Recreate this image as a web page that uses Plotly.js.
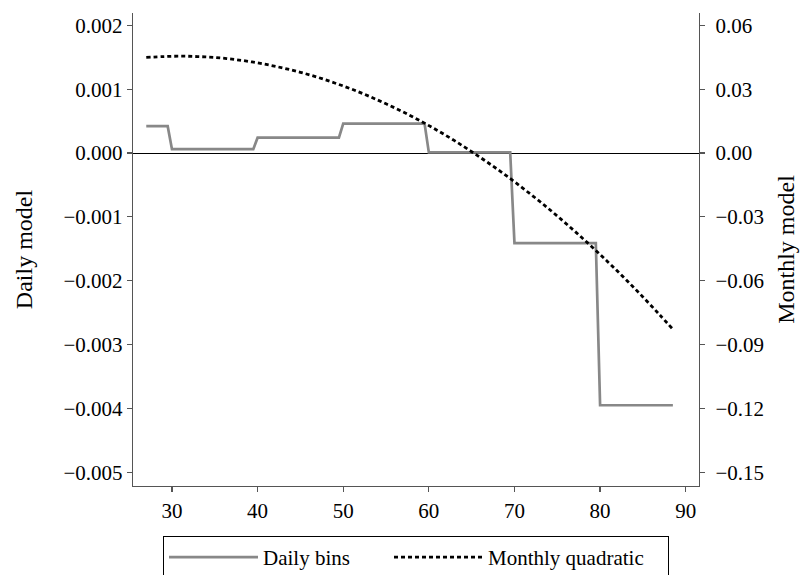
<!DOCTYPE html>
<html>
<head>
<meta charset="utf-8">
<script src="https://cdn.plot.ly/plotly-3.0.1.min.js"></script>
<style>html,body{margin:0;padding:0;background:#fff;}</style>
</head>
<body>
<div id="chart" style="width:803px;height:575px;"></div>
<script>
// Daily bins (left axis)
var dailyAge = [27, 29.5, 30, 39.5, 40, 49.5, 50, 59.5, 60, 69.5, 70, 79.5, 80, 88.5];
var dailyValue = [0.00042, 0.00042, 0.00006, 0.00006, 0.00024, 0.00024, 0.00046, 0.00046,
                  0.00001, 0.00001, -0.00141, -0.00141, -0.00395, -0.00395];

// Monthly quadratic (right axis)
var monthlyAge = [27, 29, 31, 33, 35, 37, 39, 41, 43, 45, 47, 49, 51, 53, 55, 57, 59,
                  61, 63, 65, 67, 69, 71, 73, 75, 77, 79, 81, 83, 85, 87, 88.5];
var monthlyValue = [0.0449, 0.0453, 0.0455, 0.0453, 0.0449, 0.0441, 0.0430, 0.0416, 0.0399,
                    0.0379, 0.0356, 0.0329, 0.0300, 0.0267, 0.0231, 0.0193, 0.0151, 0.0106,
                    0.0058, 0.0006, -0.0048, -0.0105, -0.0166, -0.0229, -0.0296, -0.0366,
                    -0.0439, -0.0515, -0.0594, -0.0676, -0.0762, -0.0828];

var xTicks = [30, 40, 50, 60, 70, 80, 90];
var yTicks = [-0.005, -0.004, -0.003, -0.002, -0.001, 0.000, 0.001, 0.002];
var y2Ticks = [-0.15, -0.12, -0.09, -0.06, -0.03, 0.00, 0.03, 0.06];

var FONT = '"Liberation Serif", "Times New Roman", serif';
var AX = '#555555';

var traces = [
  {
    x: dailyAge, y: dailyValue, type: 'scatter', mode: 'lines', name: 'Daily bins',
    line: {color: '#888888', width: 2.7}, yaxis: 'y', legendwidth: 121
  },
  {
    x: monthlyAge, y: monthlyValue, type: 'scatter', mode: 'lines', name: 'Monthly quadratic',
    line: {color: '#000000', width: 2.8, dash: '4px,3px', shape: 'spline'}, yaxis: 'y2',
    legendwidth: 175
  }
];

var layout = {
  width: 803, height: 575,
  margin: {l: 132.7, r: 103.7, t: 12.7, b: 89, pad: 0},
  paper_bgcolor: '#ffffff', plot_bgcolor: '#ffffff',
  font: {family: FONT, size: 21, color: '#000'},
  showlegend: true,
  legend: {
    orientation: 'h', x: 0.5, xanchor: 'center', xref: 'paper',
    y: 0.0678, yanchor: 'top', yref: 'container',
    bordercolor: '#000', borderwidth: 1, bgcolor: '#fff',
    font: {family: FONT, size: 21, color: '#000'},
    itemwidth: 89, traceorder: 'normal'
  },
  xaxis: {
    range: [25.45, 91.55], tickvals: xTicks, ticks: 'outside', ticklen: 5, tickwidth: 1.2,
    tickcolor: AX, showline: true, linecolor: AX, linewidth: 1.3, showgrid: false,
    zeroline: false, tickfont: {family: FONT, size: 21, color: '#000'}, automargin: false
  },
  yaxis: {
    range: [-0.0052144, 0.0021925], tickvals: yTicks, tickformat: '.3f',
    ticks: 'outside', ticklen: 5, tickwidth: 1.2, tickcolor: AX,
    showline: true, linecolor: AX, linewidth: 1.3, showgrid: false,
    zeroline: true, zerolinecolor: '#000', zerolinewidth: 1, automargin: false,
    tickfont: {family: FONT, size: 21, color: '#000'},
    title: {text: 'Daily model', font: {family: FONT, size: 24, color: '#000'}, standoff: 24}
  },
  yaxis2: {
    overlaying: 'y', side: 'right', anchor: 'x',
    range: [-0.156432, 0.065775], tickvals: y2Ticks, tickformat: '.2f',
    ticks: 'outside', ticklen: 5, tickwidth: 1.2, tickcolor: AX,
    showline: true, linecolor: AX, linewidth: 1.3, showgrid: false, zeroline: false,
    ticklabelstandoff: 6, automargin: false,
    tickfont: {family: FONT, size: 21, color: '#000'},
    title: {text: 'Monthly model', font: {family: FONT, size: 24, color: '#000'}, standoff: 14}
  }
};

Plotly.newPlot('chart', traces, layout, {displayModeBar: false, staticPlot: true});
</script>
</body>
</html>
